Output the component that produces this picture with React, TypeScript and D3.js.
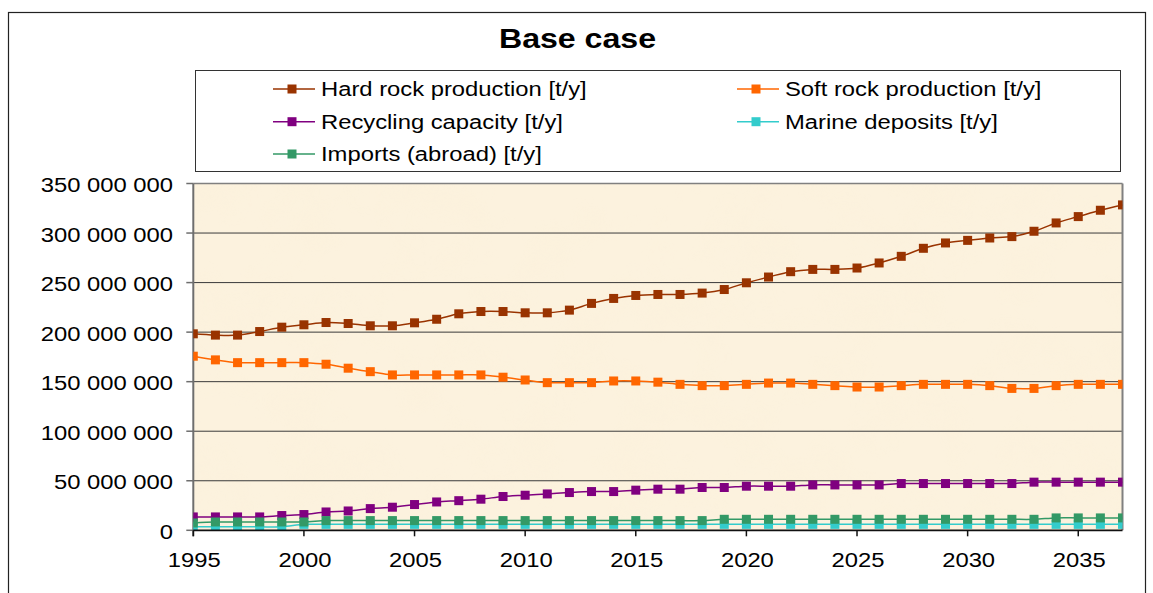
import React from "react";
import * as d3 from "d3";

const years = [
  1995, 1996, 1997, 1998, 1999, 2000, 2001, 2002, 2003, 2004,
  2005, 2006, 2007, 2008, 2009, 2010, 2011, 2012, 2013, 2014,
  2015, 2016, 2017, 2018, 2019, 2020, 2021, 2022, 2023, 2024,
  2025, 2026, 2027, 2028, 2029, 2030, 2031, 2032, 2033, 2034,
  2035, 2036, 2037,
];

// values in million t/y
const hardRock = [
  198.3, 197, 197, 200.6, 205, 207.4, 209.7, 208.7, 206.4, 206.4,
  209.4, 213, 218.5, 220.8, 220.8, 219.5, 219.5, 222.2, 229, 234,
  237, 238, 238, 239.4, 243, 249.8, 255.6, 261, 263.3, 263.3,
  264.7, 269.8, 276.5, 284.6, 290, 292.6, 295, 296.4, 301.8, 310.2,
  316.6, 323, 328.4,
];
const softRock = [
  175.7, 172, 169.2, 169.2, 169.2, 169.2, 167.6, 163.6, 160.1, 156.8,
  156.8, 156.8, 156.8, 156.8, 154.5, 151.7, 149, 149, 149, 150.7,
  150.7, 149.5, 147.3, 146, 146, 147.3, 148.6, 148.6, 147.3, 146,
  144.6, 144.6, 146, 147.3, 147.3, 147.3, 146, 143.2, 143.2, 146,
  147.3, 147.3, 147.3,
];
const recycling = [
  13.5, 13.5, 13.5, 13.5, 14.9, 15.9, 18.5, 19.5, 21.9, 23.3,
  26, 28.6, 29.9, 31.4, 34.1, 35.4, 36.7, 38.1, 39.1, 39.1,
  40.5, 41.5, 41.5, 43.2, 43.2, 44.5, 44.5, 44.5, 45.8, 45.8,
  45.8, 45.8, 47.2, 47.2, 47.2, 47.2, 47.2, 47.2, 48.6, 48.6,
  48.6, 48.6, 48.6,
];
const marine = [
  3.5, 3.5, 3.5, 3.5, 3.5, 6, 6, 6, 6, 6,
  6, 6, 6, 6, 6, 6, 6, 6, 6, 6,
  6, 6, 6, 6, 6, 6, 6, 6, 6, 6,
  6, 6, 6, 6, 6, 6, 6, 6, 6, 6,
  6, 6, 6,
];
const imports = [
  7.4, 8.4, 8.4, 8.4, 8.4, 8.4, 9.8, 9.8, 9.8, 9.8,
  9.8, 9.8, 9.8, 9.8, 9.8, 9.8, 9.8, 9.8, 9.8, 9.8,
  9.8, 9.8, 9.8, 9.8, 11.1, 11.1, 11.1, 11.1, 11.1, 11.1,
  11.1, 11.1, 11.1, 11.1, 11.1, 11.1, 11.1, 11.1, 11.1, 12.5,
  12.5, 12.5, 12.5,
];

const seriesNames = [
  "Hard rock production [t/y]",
  "Soft rock production [t/y]",
  "Recycling capacity [t/y]",
  "Marine deposits [t/y]",
  "Imports (abroad) [t/y]",
];
const seriesColors = ["#993300", "#FF6600", "#800080", "#33CCCC", "#339966"];
const seriesValues = [hardRock, softRock, recycling, marine, imports];

const yTicks = [0, 50e6, 100e6, 150e6, 200e6, 250e6, 300e6, 350e6];
const xTicks = [1995, 2000, 2005, 2010, 2015, 2020, 2025, 2030, 2035];
const title = "Base case";

const W = 1153;
const H = 593;
const PL = 193.3, PR = 1122.5, PT = 183.5, PB = 530.3;
const SX = 1.19;
const FONT = "'Liberation Sans', Arial, sans-serif";

function SText(props: any) {
  const { x, y, anchor = "start", size = 20, weight = "normal", children } = props;
  return (
    <text
      transform={`translate(${x},${y}) scale(${SX},1)`}
      textAnchor={anchor}
      fontSize={size}
      fontWeight={weight}
      fontFamily={FONT}
      fill="#000"
    >
      {children}
    </text>
  );
}

export default function App() {
  const x = d3.scaleLinear().domain([1995, 2037]).range([PL, PR]);
  const y = d3.scaleLinear().domain([0, 350e6]).range([PB, PT]);
  const fmt = (v: number) => d3.format(",")(v).replace(/,/g, " ");
  const line = d3
    .line<number>()
    .x((_, i) => x(years[i]))
    .y((v) => y(v * 1e6))
    .curve(d3.curveCatmullRom.alpha(0.5));
  const MS = 9;

  const legendRows = [
    { i: 0, col: 0, row: 0 },
    { i: 1, col: 1, row: 0 },
    { i: 2, col: 0, row: 1 },
    { i: 3, col: 1, row: 1 },
    { i: 4, col: 0, row: 2 },
  ];
  const colX = [273, 737];
  const rowY = [89, 121.7, 154];

  return (
    <svg
      width={W}
      height={H}
      style={{ position: "absolute", left: 0, top: 0, background: "#fff" }}
    >
      <defs>
        <filter id="paper" x="0" y="0" width="100%" height="100%">
          <feTurbulence type="fractalNoise" baseFrequency="0.018" numOctaves="3" seed="7" />
          <feColorMatrix
            type="matrix"
            values="0 0 0 0 0.95  0 0 0 0 0.85  0 0 0 0 0.66  0.9 0 0 0 -0.38"
          />
        </filter>
        <clipPath id="plotclip">
          <rect x={PL} y={PT} width={PR - PL} height={PB - PT} />
        </clipPath>
      </defs>

      {/* outer frame */}
      <rect x={8.5} y={12.5} width={1137} height={620} fill="#fff" stroke="#222" strokeWidth={1.2} />

      {/* title */}
      <SText x={577.5} y={48} anchor="middle" size={27} weight="bold">
        {title}
      </SText>

      {/* legend */}
      <rect x={195.5} y={70.5} width={925} height={101} fill="#fff" stroke="#333" strokeWidth={1} />
      {legendRows.map(({ i, col, row }) => (
        <g key={i}>
          <line
            x1={colX[col]}
            x2={colX[col] + 42}
            y1={rowY[row]}
            y2={rowY[row]}
            stroke={seriesColors[i]}
            strokeWidth={1.5}
          />
          <rect
            x={colX[col] + 19 - MS / 2}
            y={rowY[row] - MS / 2}
            width={MS}
            height={MS}
            fill={seriesColors[i]}
          />
          <SText x={colX[col] + 48} y={rowY[row] + 7.2}>
            {seriesNames[i]}
          </SText>
        </g>
      ))}

      {/* plot background */}
      <rect x={PL} y={PT} width={PR - PL} height={PB - PT} fill="#FCF2DE" />
      <rect x={PL} y={PT} width={PR - PL} height={PB - PT} filter="url(#paper)" opacity={0.35} />

      {/* gridlines */}
      {yTicks.slice(1, -1).map((t) => (
        <line key={t} x1={PL} x2={PR} y1={y(t)} y2={y(t)} stroke="#3a3a3a" strokeWidth={1} />
      ))}

      {/* plot border */}
      <line x1={PL} x2={PR} y1={PT} y2={PT} stroke="#808080" strokeWidth={1.5} />
      <line x1={PR} x2={PR} y1={PT} y2={PB} stroke="#808080" strokeWidth={2} />
      <line x1={PL} x2={PL} y1={PT} y2={PB + 6} stroke="#6e6e6e" strokeWidth={2} />

      {/* y ticks & labels */}
      {yTicks.map((t) => (
        <g key={t}>
          <line x1={PL - 7} x2={PL} y1={y(t)} y2={y(t)} stroke="#6e6e6e" strokeWidth={1.5} />
          <SText x={173} y={y(t) + 8.5} anchor="end">
            {fmt(t)}
          </SText>
        </g>
      ))}

      {/* series */}
      <g clipPath="url(#plotclip)">
        {seriesValues.map((vals, s) => (
          <g key={s}>
            <path d={line(vals) || ""} fill="none" stroke={seriesColors[s]} strokeWidth={1.5} />
            {vals.map((v, i) => (
              <rect
                key={i}
                x={x(years[i]) - MS / 2}
                y={y(v * 1e6) - MS / 2}
                width={MS}
                height={MS}
                fill={seriesColors[s]}
              />
            ))}
          </g>
        ))}
      </g>

      {/* x axis */}
      <line x1={PL} x2={PR} y1={PB} y2={PB} stroke="#111" strokeWidth={1.8} />
      {xTicks.map((t) => (
        <g key={t}>
          <line x1={x(t)} x2={x(t)} y1={PB} y2={PB + 6} stroke="#111" strokeWidth={1.5} />
          <SText x={x(t) + 1} y={567} anchor="middle">
            {t}
          </SText>
        </g>
      ))}
    </svg>
  );
}
